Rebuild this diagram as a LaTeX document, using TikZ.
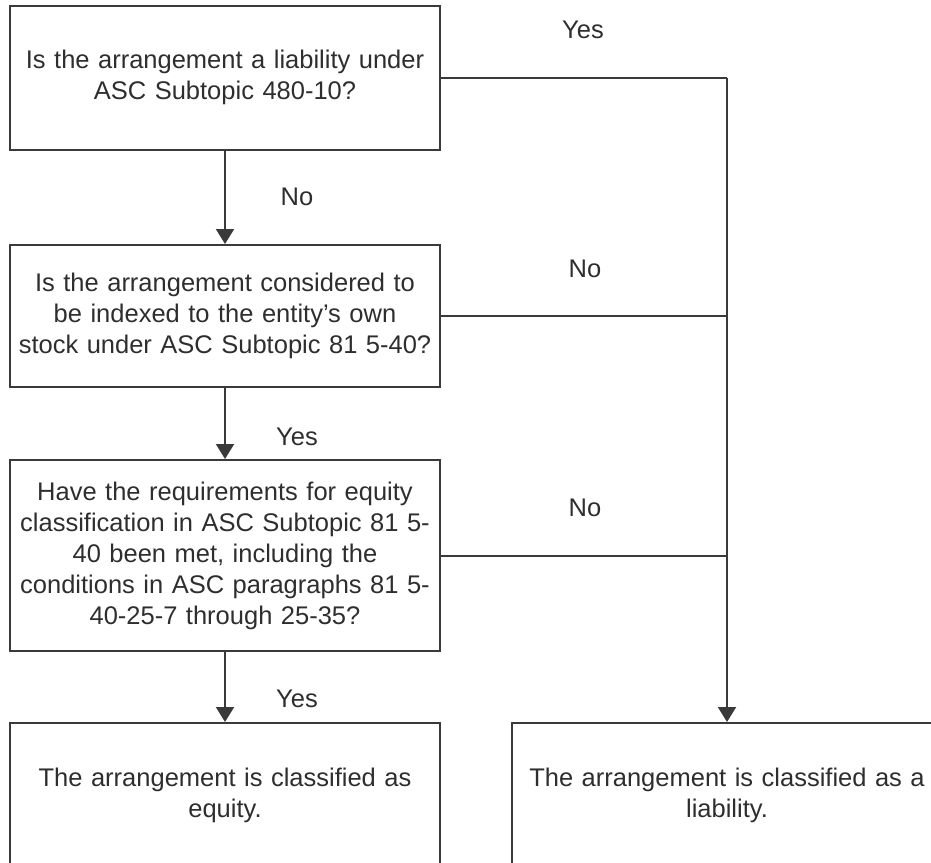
\documentclass[tikz,border=0pt]{standalone}
\usepackage{fontspec}
\setmainfont{Liberation Sans}
\usetikzlibrary{arrows.meta}
\definecolor{ink}{HTML}{2E2E2E}
\definecolor{rule}{HTML}{3A3A3A}
\begin{document}
\begin{tikzpicture}[x=1pt,y=-1pt,
  box/.style={draw=rule, line width=2pt, rectangle, minimum width=430pt,
    text width=420pt, align=center, inner sep=0pt, text=ink,
    font=\fontsize{25.5}{31}\selectfont},
  lbl/.style={text=ink, font=\fontsize{25.5}{31}\selectfont, inner sep=0pt},
  link/.style={draw=rule, line width=2pt},
  flow/.style={link, -{Triangle[width=18pt,length=15pt]}}]
\useasboundingbox (0,0) rectangle (931,862);
\clip (0,0) rectangle (931,862);

% decision boxes
\node[box, minimum height=144pt] (q1) at (225,77.5)
  {Is the arrangement a liability under\\ASC Subtopic 480-10?};
\node[box, minimum height=142pt] (q2) at (225,316)
  {Is the arrangement considered to\\be indexed to the entity’s own\\stock under ASC Subtopic 81 5-40?};
\node[box, minimum height=191pt] (q3) at (225,555.5)
  {Have the requirements for equity\\classification in ASC Subtopic 81 5-\\40 been met, including the\\conditions in ASC paragraphs 81 5-\\40-25-7 through 25-35?};

% outcomes
\node[box, minimum height=144pt] (eq) at (225,795)
  {The arrangement is classified as\\equity.};
\node[box, minimum height=144pt] (li) at (727,795)
  {The arrangement is classified as a\\liability.};

% main path
\draw[flow] (q1) -- (q2);
\draw[flow] (q2) -- (q3);
\draw[flow] (q3) -- (eq);

% side path to liability
\coordinate (j1) at (727,77.5);
\coordinate (j2) at (727,316);
\coordinate (j3) at (727,555.5);
\draw[link] (q1.east) -- (j1);
\draw[link] (q2.east) -- (j2);
\draw[link] (q3.east) -- (j3);
\draw[flow] (j1) -- (li.north);

% branch labels
\node[lbl] (l1) at (583,30) {Yes};
\node[lbl] (l2) at (297,197) {No};
\node[lbl] (l3) at (585,269) {No};
\node[lbl] (l4) at (297,437) {Yes};
\node[lbl] (l5) at (585,508) {No};
\node[lbl] (l6) at (297,699) {Yes};
\end{tikzpicture}
\end{document}
